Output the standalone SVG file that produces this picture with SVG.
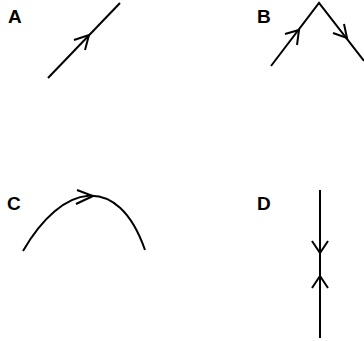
<svg xmlns="http://www.w3.org/2000/svg" width="364" height="341" viewBox="0 0 364 341">
<style>
.lbl{font-family:"Liberation Sans",Arial,sans-serif;font-weight:bold;font-size:19px;fill:#000}
.ln{fill:none;stroke:#000;stroke-width:2;stroke-linecap:butt;stroke-linejoin:miter}
</style>
<rect width="364" height="341" fill="#fff"/>
<g id="A">
<text class="lbl" x="8" y="23">A</text>
</g>
<g id="B">
<text class="lbl" x="257" y="23">B</text>
</g>
<g id="C">
<text class="lbl" x="7" y="210">C</text>
</g>
<g id="D">
<text class="lbl" x="257" y="210">D</text>
</g>
<g id="connectors">
<path class="ln" d="M48,78 L120,3"/>
<path class="ln" d="M74,40 L89,35 L85,50"/>
<path class="ln" d="M271,66 L319,3 L364,61"/>
<path class="ln" d="M285,34 L299,30 L297,45"/>
<path class="ln" d="M333,33 L347,38 L344,24"/>
<path class="ln" d="M23,251 C62,183 118,172 145,250"/>
<path class="ln" d="M77,190 L93,196 L76,204"/>
<path class="ln" d="M320,190 L320,338"/>
<path class="ln" d="M312,241 L320,253 L328,241"/>
<path class="ln" d="M312,288 L320,276 L328,288"/>
</g>
</svg>
